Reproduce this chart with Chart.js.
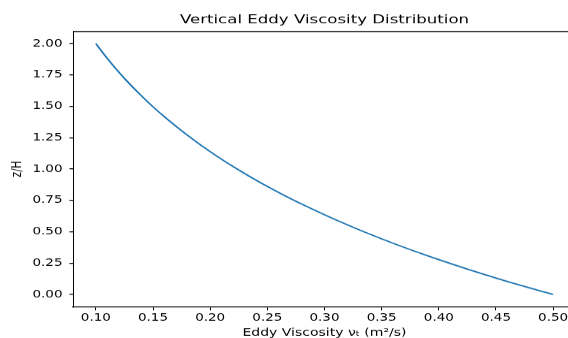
<!DOCTYPE html>
<html lang="en">
<head>
    <meta charset="UTF-8">
    <script src="https://cdn.jsdelivr.net/npm/chart.js"></script>
    <title>Vertical Eddy Viscosity Distribution</title>
    <style>
        html, body { margin: 0; padding: 0; overflow: hidden; background: #fff; width: 568px; height: 338px; }
        /* the reference figure is squeezed vertically, so draw tall and squeeze */
        #grafico { display: block; transform: scale(1, 0.7511); transform-origin: 0 0; }
    </style>
</head>
<body>
    <canvas id="grafico" width="649" height="450"></canvas>
<script>
    // z/H (top to bottom) and eddy viscosity
    var alturas = [2.0, 1.9, 1.8, 1.7, 1.6, 1.5, 1.4, 1.3, 1.2, 1.1, 1.0,
                   0.9, 0.8, 0.7, 0.6, 0.5, 0.4, 0.3, 0.2, 0.1, 0.0];
    var viscosidade = [0.1000, 0.1084, 0.1175, 0.1273, 0.1380, 0.1495, 0.1621, 0.1757, 0.1904, 0.2063, 0.2236,
                       0.2423, 0.2627, 0.2847, 0.3085, 0.3344, 0.3624, 0.3928, 0.4257, 0.4613, 0.5000];
    var ticksX = [0.10, 0.15, 0.20, 0.25, 0.30, 0.35, 0.40, 0.45, 0.50];
    var ticksY = [0.00, 0.25, 0.50, 0.75, 1.00, 1.25, 1.50, 1.75, 2.00];

    var pontos = [];
    for (var i = 0; i < alturas.length; i++) {
        pontos.push({ x: viscosidade[i], y: alturas[i] });
    }

    Chart.defaults.font.family = "'DejaVu Sans', sans-serif";
    Chart.defaults.color = '#000';

    // top/right spines like matplotlib
    const moldura = {
        id: 'moldura',
        afterDraw(chart) {
            const a = chart.chartArea;
            const c = chart.ctx;
            c.save();
            c.strokeStyle = '#000';
            c.lineWidth = 1.33;
            c.beginPath();
            c.moveTo(a.left, a.top + 0.67);
            c.lineTo(a.right, a.top + 0.67);
            c.stroke();
            c.lineWidth = 1;
            c.beginPath();
            c.moveTo(a.right - 0.5, a.top);
            c.lineTo(a.right - 0.5, a.bottom);
            c.stroke();
            c.restore();
        }
    };

    const ctx = document.getElementById('grafico');
    var grafico = new Chart(ctx, {
        type: 'scatter',
        data: {
            datasets: [{
                data: pontos,
                showLine: true,
                borderColor: '#1f77b4',
                borderWidth: 1.8,
                pointRadius: 0,
                tension: 0.3
            }]
        },
        options: {
            responsive: false,
            animation: false,
            layout: { padding: 0 },
            plugins: {
                legend: { display: false },
                tooltip: { enabled: false },
                title: {
                    display: true,
                    text: 'Vertical Eddy Viscosity Distribution',
                    color: '#000',
                    font: { size: 16.6, weight: 'normal' },
                    padding: { top: 17, bottom: 4.4 }
                }
            },
            scales: {
                x: {
                    type: 'linear',
                    min: 0.08,
                    max: 0.52,
                    afterBuildTicks: (s) => { s.ticks = ticksX.map(v => ({ value: v })); },
                    afterFit: (s) => { s.height = 41.3; },
                    border: { display: true, color: '#000', width: 1.33 },
                    grid: { drawOnChartArea: false, drawTicks: true, tickLength: 4.5, tickColor: '#000', lineWidth: 1 },
                    ticks: {
                        padding: 2,
                        font: { size: 13.5 },
                        maxRotation: 0,
                        callback: (v) => v.toFixed(2)
                    },
                    title: {
                        display: true,
                        text: 'Eddy Viscosity \u03bd\u209c (m\u00b2/s)',
                        font: { size: 14, lineHeight: 1 },
                        padding: { top: 0, bottom: 0 }
                    }
                },
                y: {
                    type: 'linear',
                    min: -0.1,
                    max: 2.1,
                    afterBuildTicks: (s) => { s.ticks = ticksY.map(v => ({ value: v })); },
                    afterFit: (s) => { s.width = 73; },
                    border: { display: true, color: '#000', width: 1 },
                    grid: { drawOnChartArea: false, drawTicks: true, tickLength: 3.5, tickColor: '#000', lineWidth: 1.33 },
                    ticks: {
                        padding: 7,
                        font: { size: 13.5 },
                        callback: (v) => v.toFixed(2)
                    },
                    title: {
                        display: true,
                        text: 'z/H',
                        font: { size: 13.5, lineHeight: 1 },
                        padding: { top: 10.5, bottom: 0 }
                    }
                },
                // empty axis on the right so the title centres over the plot like matplotlib
                direita: {
                    type: 'linear',
                    position: 'right',
                    min: 0,
                    max: 1,
                    afterFit: (s) => { s.width = 73; },
                    border: { display: false },
                    grid: { display: false },
                    ticks: { display: false }
                }
            }
        },
        plugins: [moldura]
    });
</script>
</body>
</html>
